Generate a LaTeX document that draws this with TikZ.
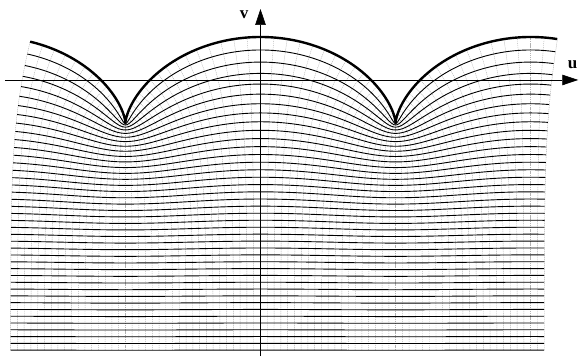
\documentclass[tikz,border=0pt]{standalone}
\usepackage{fontspec}
\setmainfont{Liberation Serif}
\usetikzlibrary{arrows.meta}
\tikzset{
  hline/.style={line width=0.9pt, black},
  vline/.style={line width=0.4pt, gray!60, dash pattern=on 1.2pt off 0.8pt},
  rim/.style={line width=2.4pt, black, line join=round},
  axis/.style={line width=0.7pt, black, -{Triangle[length=16pt,width=10.5pt]}},
  axlabel/.style={font=\fontsize{17}{17}\selectfont\bfseries, inner sep=0pt}
}
\begin{document}
\begin{tikzpicture}[x=43pt,y=43pt]
\useasboundingbox (-6.058,-6.419) rectangle (7.407,1.860);
% images of the vertical lines x = const
\foreach \j in {-37,...,42} {
  \pgfmathsetmacro\xx{\j*pi/20}
  \pgfmathsetmacro\sx{sin(\xx r)}
  \pgfmathsetmacro\cx{cos(\xx r)}
  \draw[vline] plot[domain=-2*pi:0, samples=60, smooth] ({\xx+exp(\x)*\sx},{\x+exp(\x)*\cx});
}
% images of the horizontal lines y = const
\foreach \k in {1,...,40} {
  \pgfmathsetmacro\yy{-\k*pi/20}
  \pgfmathsetmacro\ey{exp(\yy)}
  \draw[hline] plot[domain=-37*pi/20:42*pi/20, samples=317] ({\x+\ey*sin(\x r)},{\yy+\ey*cos(\x r)});
}
% boundary (cycloid)
\draw[rim] plot[domain=-37*pi/20:42*pi/20, samples=317] ({\x+sin(\x r)},{cos(\x r)});
% axes
\coordinate (uL) at (-5.942,0);
\coordinate (uR) at (7.39,0);
\coordinate (vB) at (0,-6.419);
\coordinate (vT) at (0,1.651);
\draw[axis] (uL) -- (uR);
\draw[axis] (vB) -- (vT);
\node[axlabel] (ulab) at (7.26,0.35) {u};
\node[axlabel] (vlab) at (-0.38,1.51) {v};
\end{tikzpicture}
\end{document}
